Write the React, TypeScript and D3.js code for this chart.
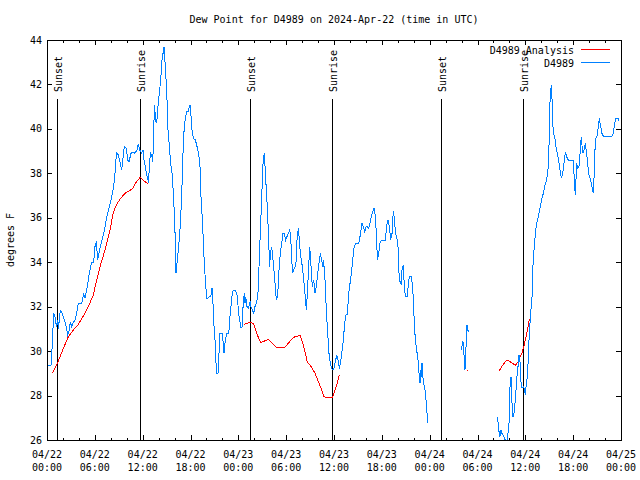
import React from 'react';
import * as d3 from 'd3';

// chart text
const title = 'Dew Point for D4989 on 2024-Apr-22 (time in UTC)';
const yLabel = 'degrees F';
const analysisName = 'D4989 Analysis';
const stationName = 'D4989';

// time axis: hours after 2024-04-22 00:00 UTC
const startUtc = Date.UTC(2024, 3, 22);
const spanHours = 72;
const yDomain: [number, number] = [26, 44];

// sunset / sunrise marks, [hour, label]
const sunEvents: [number, string][] = [
  [1.3, 'Sunset'], [11.71, 'Sunrise'],
  [25.42, 'Sunset'], [35.78, 'Sunrise'],
  [49.42, 'Sunset'], [59.77, 'Sunrise'],
];

// station observations, [hour, degF], split where the record has gaps
const stationA: [number, number][] = [
  [0.08, 29.37], [0.5, 29.37], [0.67, 30.35], [0.84, 31.7], [1.0, 31.55], [1.17, 31.1], [1.34, 31.4], [1.42, 31.0],
  [1.67, 31.82], [1.92, 31.7], [2.17, 31.4], [2.42, 31.1], [2.59, 30.73], [2.76, 30.9], [2.93, 31.3], [3.09, 31.1],
  [3.26, 31.25], [3.51, 31.4], [3.76, 31.78], [3.93, 32.15], [4.35, 32.15], [4.6, 32.6], [4.77, 32.38], [5.02, 32.83],
  [5.27, 33.43], [5.6, 34.0], [5.85, 34.0], [6.02, 34.7], [6.19, 34.93], [6.35, 34.1], [6.52, 34.4], [6.69, 34.7],
  [7.11, 35.3], [7.52, 36.05], [7.94, 36.65], [8.36, 37.4], [8.61, 38.3], [8.7, 38.93], [8.95, 38.83], [9.2, 38.45],
  [9.37, 38.15], [9.53, 38.67], [9.7, 39.2], [9.95, 39.13], [10.12, 38.6], [10.28, 38.5], [10.53, 38.9], [10.79, 38.97],
  [11.04, 38.9], [11.29, 39.05], [11.46, 39.32], [11.62, 39.05], [11.87, 38.9], [12.04, 39.05], [12.17, 38.6], [12.34, 38.3],
  [12.5, 37.93], [12.67, 37.7], [12.75, 37.55], [12.84, 38.45], [13.0, 38.9], [13.17, 38.75], [13.25, 38.5], [13.34, 39.2],
  [13.42, 40.4], [13.51, 41.08], [13.59, 40.4], [13.76, 40.25], [13.92, 41.0], [14.09, 41.6], [14.26, 42.2], [14.43, 43.1],
  [14.59, 43.48], [14.68, 43.7], [14.84, 42.8], [15.01, 41.75], [15.18, 39.95], [15.35, 39.2], [15.51, 38.45], [15.68, 38.0],
  [15.85, 37.1], [16.01, 35.9], [16.1, 34.85], [16.18, 33.5], [16.35, 34.1], [16.52, 34.7], [16.68, 35.45], [16.85, 36.65],
  [17.02, 38.3], [17.1, 39.5], [17.27, 40.25], [17.52, 40.78], [17.69, 40.78], [17.85, 41.0], [17.94, 41.08], [18.02, 40.78],
  [18.19, 39.95], [18.36, 39.57], [18.61, 39.5], [18.77, 39.28], [19.02, 38.9], [19.19, 38.3], [19.27, 37.25], [19.44, 36.2],
  [19.61, 35.0], [19.69, 34.25], [19.86, 33.2], [20.03, 32.38], [20.19, 32.38], [20.36, 32.45], [20.53, 32.45], [20.61, 32.6],
  [20.7, 32.83], [20.78, 32.45], [20.95, 31.1], [21.11, 30.35], [21.2, 29.45], [21.3, 29.0], [21.45, 29.0], [21.53, 29.45],
  [21.62, 30.35], [21.7, 30.8], [21.95, 30.8], [22.12, 30.35], [22.2, 29.9], [22.37, 30.5], [22.54, 30.8], [22.79, 30.8],
  [22.87, 31.1], [22.95, 31.55], [23.2, 32.45], [23.37, 32.75], [23.62, 32.75], [23.79, 32.6], [23.87, 32.45], [24.04, 31.7],
  [24.17, 31.4], [24.34, 31.03], [24.5, 31.1], [24.59, 32.0], [24.75, 32.6], [24.84, 32.15], [24.92, 32.45], [25.09, 32.0],
  [25.26, 31.95], [25.51, 32.25], [25.59, 32.0], [25.76, 31.85], [25.92, 31.7], [26.09, 32.0], [26.26, 32.15], [26.43, 32.45],
  [26.51, 32.9], [26.68, 34.7], [26.76, 35.3], [26.93, 36.95], [27.1, 38.45], [27.18, 38.75], [27.26, 38.9], [27.35, 38.3],
  [27.51, 37.25], [27.68, 36.2], [27.76, 35.3], [27.85, 34.55], [27.93, 33.8], [28.02, 34.4], [28.18, 34.7], [28.27, 34.4],
  [28.43, 33.8], [28.6, 33.05], [28.77, 32.3], [28.93, 32.45], [29.1, 33.65], [29.27, 34.4], [29.44, 34.85], [29.6, 35.3],
  [29.77, 35.3], [29.94, 35.0], [30.1, 35.15], [30.27, 35.3], [30.44, 35.45], [30.52, 35.3], [30.69, 34.4], [30.77, 33.5],
  [30.94, 33.65], [31.11, 33.8], [31.28, 34.1], [31.36, 35.0], [31.53, 35.52], [31.69, 34.85], [31.78, 34.4], [32.03, 33.8],
  [32.2, 33.2], [32.36, 32.6], [32.53, 31.85], [32.61, 32.3], [32.78, 33.5], [32.95, 34.7], [33.1, 33.95], [33.28, 32.9],
  [33.45, 33.2], [33.62, 32.6], [33.78, 32.9], [33.95, 33.5], [34.12, 33.95], [34.29, 34.4], [34.45, 34.1], [34.62, 33.8],
  [34.7, 34.1], [34.87, 33.2], [35.04, 31.85], [35.21, 30.8], [35.37, 29.9], [35.54, 29.45], [35.71, 29.22], [35.87, 29.15],
  [36.0, 29.22], [36.17, 29.52], [36.34, 29.82], [36.5, 29.6], [36.67, 29.22], [36.84, 29.52], [37.0, 29.98], [37.17, 30.5],
  [37.34, 31.25], [37.51, 31.63], [37.67, 31.63], [37.84, 32.6], [38.01, 33.05], [38.18, 33.5], [38.34, 34.1], [38.51, 34.63],
  [38.68, 34.85], [39.1, 34.85], [39.26, 35.15], [39.51, 35.75], [39.68, 35.6], [39.85, 35.37], [40.02, 35.6], [40.18, 35.6],
  [40.35, 35.52], [40.52, 35.75], [40.68, 36.05], [40.85, 36.28], [41.02, 36.43], [41.19, 36.05], [41.35, 35.0], [41.44, 34.1],
  [41.6, 34.4], [41.77, 34.85], [41.94, 35.0], [42.44, 35.0], [42.61, 35.67], [42.77, 35.9], [42.94, 35.6], [43.11, 35.0],
  [43.28, 35.3], [43.36, 35.9], [43.44, 36.28], [43.61, 35.9], [43.69, 35.3], [43.86, 35.15], [44.03, 34.7], [44.11, 33.65],
  [44.28, 33.13], [44.45, 32.98], [44.53, 33.65], [44.7, 33.88], [44.78, 33.2], [44.95, 32.45], [45.2, 32.45], [45.37, 33.2],
  [45.53, 33.35], [45.7, 33.35], [45.87, 32.9], [46.04, 31.55], [46.2, 30.5], [46.37, 30.05], [46.54, 29.6], [46.62, 29.15],
  [46.79, 28.55], [46.87, 29.15], [46.96, 28.85], [47.04, 29.45], [47.21, 28.55], [47.37, 28.4], [47.54, 27.8], [47.71, 27.05],
  [47.79, 26.75],
];
const stationB: [number, number][] = [
  [51.93, 30.05], [52.1, 30.28], [52.18, 30.43], [52.27, 30.05], [52.35, 29.6], [52.43, 29.15], [52.52, 29.6], [52.6, 30.8],
  [52.68, 31.18], [52.77, 30.95], [52.93, 30.88],
];
const stationC: [number, number][] = [
  [56.45, 27.02], [56.57, 26.83], [56.7, 26.38], [56.82, 26.15], [56.95, 26.45], [57.07, 26.3], [57.32, 26.15], [57.57, 25.9],
  [57.7, 25.6], [57.82, 26.3], [57.95, 26.75], [58.08, 28.4], [58.2, 28.85], [58.33, 27.65], [58.45, 27.05], [58.58, 27.2],
  [58.7, 27.65], [58.83, 28.25], [58.95, 28.85], [59.08, 29.3], [59.2, 29.82], [59.33, 29.52], [59.42, 28.7], [59.58, 28.33],
  [59.75, 28.4], [59.92, 28.25], [60.0, 28.02], [60.09, 28.4], [60.25, 28.85], [60.34, 29.45], [60.5, 30.8], [60.67, 31.7],
  [60.84, 32.45], [60.92, 33.65], [61.09, 34.55], [61.26, 35.3], [61.42, 35.75], [61.59, 35.97], [61.76, 36.28], [61.92, 36.58],
  [62.09, 36.88], [62.26, 37.1], [62.42, 37.4], [62.67, 37.7], [62.84, 38.15], [62.93, 38.75], [63.01, 39.8], [63.1, 41.3],
  [63.26, 41.98], [63.34, 41.45], [63.43, 40.4], [63.51, 39.8], [63.68, 39.65], [63.85, 39.2], [64.01, 38.9], [64.18, 38.6],
  [64.35, 38.15], [64.51, 37.78], [64.68, 38.0], [64.85, 38.45], [65.02, 38.97], [65.18, 38.75], [65.43, 38.57], [66.02, 38.57],
  [66.19, 37.4], [66.27, 37.03], [66.44, 38.45], [66.6, 38.22], [66.77, 38.37], [66.94, 39.35], [67.02, 39.65], [67.19, 38.9],
  [67.36, 39.05], [67.52, 39.35], [67.69, 38.9], [67.94, 38.0], [68.19, 37.7], [68.36, 37.4], [68.53, 37.1], [68.61, 37.7],
  [68.7, 38.9], [68.86, 39.58], [69.03, 39.73], [69.2, 40.25], [69.28, 40.48], [69.45, 40.1], [69.61, 39.8], [69.78, 39.68],
  [70.87, 39.68], [71.04, 39.8], [71.2, 40.25], [71.37, 40.48], [71.62, 40.48], [71.79, 40.33],
];

// analysis values, [hour, degF]
const analysisA: [number, number][] = [
  [0.67, 29.0], [1.3, 29.45], [2.05, 30.12], [2.68, 30.65], [3.3, 30.95], [3.93, 31.2], [4.56, 31.58], [5.18, 32.0],
  [5.81, 32.52], [6.23, 33.2], [6.65, 33.8], [7.28, 34.55], [7.9, 35.45], [8.3, 36.2], [8.6, 36.5], [8.9, 36.7],
  [9.3, 36.9], [9.7, 37.07], [10.1, 37.18], [10.5, 37.25], [10.8, 37.35], [11.1, 37.55], [11.4, 37.7], [11.7, 37.82],
  [12.0, 37.72], [12.3, 37.62], [12.67, 37.55],
];
const analysisB: [number, number][] = [
  [24.75, 31.2], [25.46, 31.3], [25.88, 31.25], [26.3, 30.8], [26.8, 30.38], [27.76, 30.53], [28.8, 30.17], [29.85, 30.17],
  [30.9, 30.62], [31.74, 30.7], [32.15, 30.27], [32.65, 29.52], [33.2, 29.27], [33.62, 29.0], [34.04, 28.62], [34.46, 28.25],
  [34.75, 27.95], [35.3, 27.9], [35.8, 27.9], [36.13, 28.25], [36.42, 28.58], [36.67, 28.92],
];
const analysisC: [number, number][] = [[52.72, 29.14], [52.77, 29.14]];
const analysisD: [number, number][] = [
  [56.74, 29.12], [57.03, 29.3], [57.33, 29.45], [57.7, 29.6], [58.08, 29.52], [58.5, 29.42], [58.8, 29.37], [59.09, 29.52],
  [59.34, 29.75], [59.6, 29.93], [59.85, 30.27], [60.1, 30.65], [60.35, 31.1], [60.5, 31.43],
];

const width = 640, height = 480;
const margin = {top: 40, right: 19, bottom: 40, left: 47};
const red = '#ff0000', blue = '#0080ff';
const font = '"DejaVu Sans Mono", "Liberation Mono", monospace';

const toDate = (h: number) => new Date(startUtc + h * 3600e3);

export default function App() {
  const x0 = margin.left, x1 = width - margin.right;
  const y0 = height - margin.bottom, y1 = margin.top;

  const x = d3.scaleUtc().domain([toDate(0), toDate(spanHours)]).range([x0, x1]);
  const y = d3.scaleLinear().domain(yDomain).range([y0, y1]);

  const line = d3.line<[number, number]>()
    .x(d => x(toDate(d[0])))
    .y(d => y(d[1]));

  const xTicks = x.ticks(d3.utcHour.every(2)!);
  const yTicks = y.ticks(10);
  const fmtDay = d3.utcFormat('%m/%d');
  const fmtTime = d3.utcFormat('%H:%M');

  return (
    <svg width={width} height={height} style={{position: 'absolute', left: 0, top: 0, background: '#fff'}}
         fontFamily={font} fontSize={10}>
      <defs>
        <clipPath id="plot-clip">
          <rect x={x0} y={y1} width={x1 - x0} height={y0 - y1}/>
        </clipPath>
      </defs>

      <text x={(x0 + x1) / 2} y={23} textAnchor="middle">{title}</text>
      <text transform={`translate(14,${(y0 + y1) / 2}) rotate(-90)`} textAnchor="middle">{yLabel}</text>

      {/* y ticks, both sides */}
      {yTicks.map(t => (
        <g key={'y' + t} shapeRendering="crispEdges">
          <line x1={x0} x2={x0 + 5} y1={Math.round(y(t)) + 0.5} y2={Math.round(y(t)) + 0.5} stroke="#000"/>
          <line x1={x1 - 5} x2={x1} y1={Math.round(y(t)) + 0.5} y2={Math.round(y(t)) + 0.5} stroke="#000"/>
          <text x={42} y={y(t) + 3.5} textAnchor="end">{t}</text>
        </g>
      ))}

      {/* x ticks, major every 6 h */}
      {xTicks.map((t, i) => {
        const major = t.getUTCHours() % 6 === 0;
        const len = major ? 5 : 2.5;
        const px = Math.round(x(t)) + 0.5;
        return (
          <g key={'x' + i}>
            <line x1={px} x2={px} y1={y0} y2={y0 - len} stroke="#000" shapeRendering="crispEdges"/>
            <line x1={px} x2={px} y1={y1} y2={y1 + len} stroke="#000" shapeRendering="crispEdges"/>
            {major && (
              <text x={x(t)} textAnchor="middle">
                <tspan x={x(t)} y={457.5}>{fmtDay(t)}</tspan>
                <tspan x={x(t)} y={471}>{fmtTime(t)}</tspan>
              </text>
            )}
          </g>
        );
      })}

      {/* sunrise / sunset */}
      {sunEvents.map(([h, label], i) => {
        const px = Math.round(x(toDate(h))) + 0.5;
        return (
          <g key={'s' + i}>
            <line x1={px} x2={px} y1={99} y2={y0} stroke="#000" shapeRendering="crispEdges"/>
            <text transform={`translate(${px + 4},92) rotate(-90)`} textAnchor="start">{label}</text>
          </g>
        );
      })}

      <g clipPath="url(#plot-clip)" fill="none" strokeWidth={1} shapeRendering="crispEdges">
        {[analysisA, analysisB, analysisC, analysisD].map((seg, i) => (
          <path key={'a' + i} d={line(seg) ?? ''} stroke={red}/>
        ))}
        {[stationA, stationB, stationC].map((seg, i) => (
          <path key={'b' + i} d={line(seg) ?? ''} stroke={blue}/>
        ))}
      </g>

      <rect x={x0 + 0.5} y={y1 + 0.5} width={x1 - x0} height={y0 - y1} fill="none" stroke="#000"
            shapeRendering="crispEdges"/>

      {/* legend */}
      <text x={574} y={53.5} textAnchor="end">{analysisName}</text>
      <line x1={581} x2={610} y1={49.5} y2={49.5} stroke={red} shapeRendering="crispEdges"/>
      <text x={574} y={66.5} textAnchor="end">{stationName}</text>
      <line x1={581} x2={610} y1={62.5} y2={62.5} stroke={blue} shapeRendering="crispEdges"/>
    </svg>
  );
}
